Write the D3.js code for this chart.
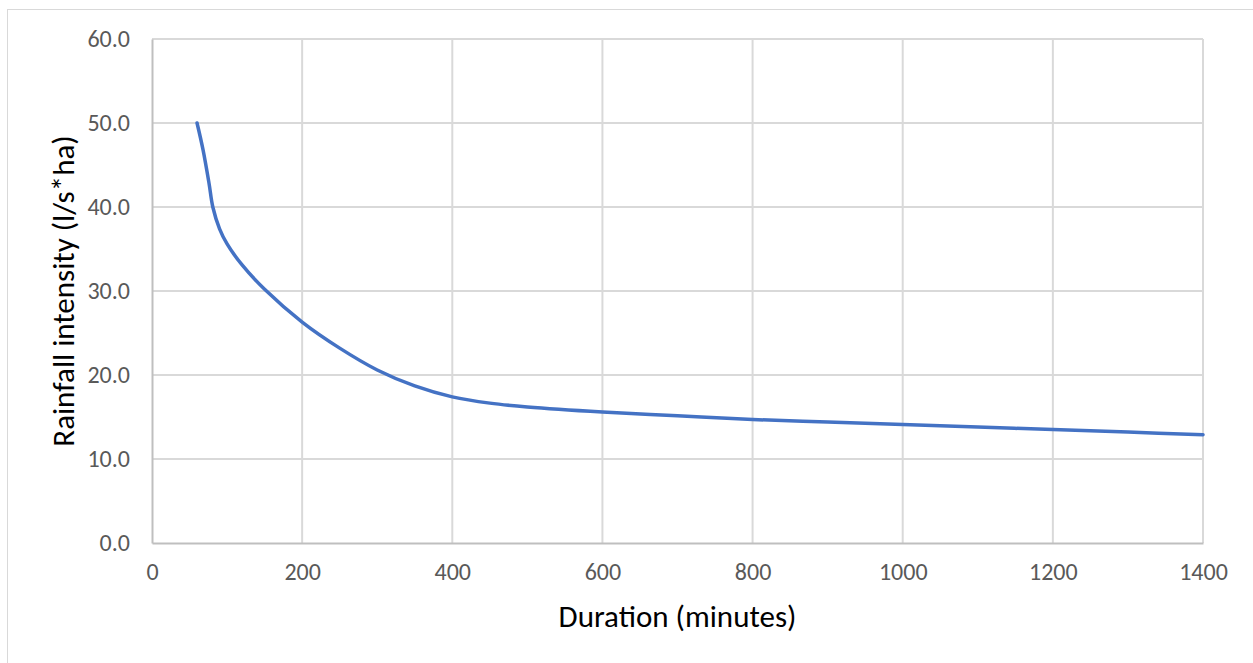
<!DOCTYPE html>
<html>
<head>
<meta charset="utf-8">
<script src="https://cdn.jsdelivr.net/npm/d3@7"></script>
<style>
  body { margin: 0; background: #fff; }
  text { font-family: Carlito, Lato, "Open Sans", sans-serif; }
</style>
</head>
<body>
<script>
// duration (minutes) and rainfall intensity (l/s*ha)
const durations = [60, 68, 76, 81, 90, 100, 120, 150, 200, 250, 300, 350, 400, 450, 500, 600, 700, 800, 900, 1000, 1100, 1200, 1300, 1400];
const intensity = [50.0, 46.8, 42.8, 40.0, 37.4, 35.6, 33.1, 30.2, 26.3, 23.2, 20.6, 18.7, 17.4, 16.65, 16.2, 15.6, 15.15, 14.7, 14.4, 14.1, 13.8, 13.5, 13.2, 12.9];
const xTicks = [0, 200, 400, 600, 800, 1000, 1200, 1400];
const yTicks = [0, 10, 20, 30, 40, 50, 60];

const width = 1253;
const height = 663;
const plotL = 152, plotR = 1203, plotT = 39, plotB = 543;

const svg = d3.select('body')
    .append('svg')
    .attr('width', width)
    .attr('height', height);

// chart frame
svg.append('rect')
    .attr('x', 7.5)
    .attr('y', 9.5)
    .attr('width', width + 20)
    .attr('height', height + 20)
    .style('fill', 'none')
    .style('stroke', '#d9d9d9')
    .style('stroke-width', 1);

const x = d3.scaleLinear().domain([0, 1400]).range([plotL, plotR]);
const y = d3.scaleLinear().domain([0, 60]).range([plotB, plotT]);

// gridlines
svg.append('g')
    .selectAll('line')
    .data(xTicks.slice(1))
    .join('line')
    .attr('x1', d => x(d)).attr('x2', d => x(d))
    .attr('y1', plotT).attr('y2', plotB)
    .style('stroke', '#d9d9d9')
    .style('stroke-width', 2);

svg.append('g')
    .selectAll('line')
    .data(yTicks.slice(1))
    .join('line')
    .attr('x1', plotL).attr('x2', plotR)
    .attr('y1', d => y(d)).attr('y2', d => y(d))
    .style('stroke', '#d9d9d9')
    .style('stroke-width', 2);

// axes
const xAxis = svg.append('g')
    .attr('transform', `translate(0,${plotB})`)
    .call(d3.axisBottom(x).tickValues(xTicks).tickSize(0).tickPadding(20).tickFormat(d3.format('d')));
const yAxis = svg.append('g')
    .attr('transform', `translate(${plotL},0)`)
    .call(d3.axisLeft(y).tickValues(yTicks).tickSize(0).tickPadding(22).tickFormat(d3.format('.1f')));

[xAxis, yAxis].forEach(a => {
    a.select('.domain').style('stroke', '#bfbfbf').style('stroke-width', 2);
    a.selectAll('text')
        .style('font-size', '24px')
        .style('fill', '#595959')
        .style('font-family', 'Carlito, Lato, "Open Sans", sans-serif');
});

// series line
const data = durations.map((d, i) => ({x: d, y: intensity[i]}));
const line = d3.line()
    .x(d => x(d.x))
    .y(d => y(d.y))
    .curve(d3.curveCatmullRom.alpha(0.5));

svg.append('path')
    .datum(data)
    .attr('d', line)
    .style('fill', 'none')
    .style('stroke', '#4472c4')
    .style('stroke-width', 3.5)
    .style('stroke-linecap', 'round');

// axis titles
svg.append('text')
    .attr('x', (plotL + plotR) / 2)
    .attr('y', 627)
    .attr('text-anchor', 'middle')
    .style('font-size', '31px')
    .style('fill', '#000')
    .text('Duration (minutes)');

svg.append('text')
    .attr('transform', `translate(74,${(plotT + plotB) / 2}) rotate(-90)`)
    .attr('text-anchor', 'middle')
    .style('font-size', '31px')
    .style('fill', '#000')
    .text('Rainfall intensity (l/s*ha)');
</script>
</body>
</html>
